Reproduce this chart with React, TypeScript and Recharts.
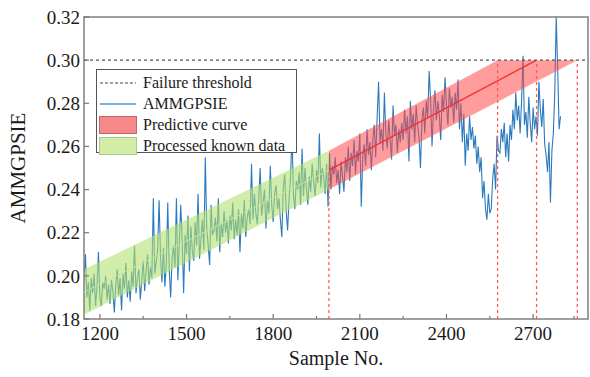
import React from 'react'
import {
  ComposedChart, Line, Area, XAxis, YAxis, ReferenceLine, ReferenceArea,
} from 'recharts'

const SERIF = '"Liberation Serif", "Times New Roman", serif'

// measured signal, one value every 5 samples starting at 1145
const SAMPLE_START = 1145
const SAMPLE_STEP = 5
const AMMGPSIE = [
  0.198, 0.210, 0.190, 0.197, 0.184, 0.199, 0.192, 0.201, 0.186, 0.195, 0.211, 0.190, 0.186, 0.197, 0.194, 0.200, 0.189, 0.196, 0.187, 0.198,
  0.193, 0.183, 0.196, 0.203, 0.191, 0.199, 0.184, 0.201, 0.194, 0.206, 0.190, 0.198, 0.188, 0.202, 0.195, 0.214, 0.192, 0.199, 0.203, 0.189,
  0.198, 0.207, 0.193, 0.202, 0.210, 0.196, 0.204, 0.199, 0.236, 0.201, 0.206, 0.212, 0.235, 0.209, 0.197, 0.213, 0.195, 0.206, 0.234, 0.203,
  0.190, 0.208, 0.214, 0.204, 0.236, 0.198, 0.215, 0.233, 0.216, 0.192, 0.219, 0.210, 0.228, 0.202, 0.223, 0.212, 0.207, 0.225, 0.214, 0.238,
  0.208, 0.217, 0.226, 0.212, 0.255, 0.222, 0.214, 0.205, 0.233, 0.219, 0.221, 0.227, 0.216, 0.236, 0.211, 0.224, 0.218, 0.230, 0.220, 0.226,
  0.215, 0.228, 0.221, 0.234, 0.217, 0.226, 0.219, 0.231, 0.211, 0.229, 0.222, 0.235, 0.218, 0.227, 0.231, 0.224, 0.252, 0.226, 0.238, 0.229,
  0.224, 0.236, 0.250, 0.228, 0.234, 0.240, 0.222, 0.235, 0.229, 0.251, 0.233, 0.225, 0.238, 0.242, 0.231, 0.236, 0.226, 0.218, 0.241, 0.247,
  0.230, 0.221, 0.236, 0.245, 0.266, 0.238, 0.231, 0.244, 0.240, 0.248, 0.233, 0.259, 0.237, 0.250, 0.241, 0.233, 0.246, 0.239, 0.252, 0.244,
  0.237, 0.249, 0.243, 0.266, 0.241, 0.250, 0.246, 0.238, 0.252, 0.232, 0.257, 0.240, 0.251, 0.247, 0.255, 0.243, 0.249, 0.238, 0.253, 0.246,
  0.239, 0.255, 0.248, 0.260, 0.244, 0.257, 0.251, 0.263, 0.247, 0.258, 0.253, 0.266, 0.232, 0.255, 0.261, 0.251, 0.268, 0.256, 0.262, 0.249,
  0.263, 0.270, 0.255, 0.274, 0.290, 0.262, 0.268, 0.258, 0.285, 0.266, 0.259, 0.272, 0.263, 0.254, 0.279, 0.265, 0.270, 0.257, 0.268, 0.262,
  0.271, 0.263, 0.277, 0.266, 0.274, 0.253, 0.281, 0.268, 0.275, 0.262, 0.279, 0.270, 0.264, 0.250, 0.272, 0.278, 0.266, 0.281, 0.273, 0.295,
  0.282, 0.260, 0.277, 0.286, 0.272, 0.281, 0.275, 0.263, 0.284, 0.276, 0.292, 0.279, 0.270, 0.287, 0.278, 0.283, 0.271, 0.285, 0.277, 0.291,
  0.268, 0.280, 0.262, 0.275, 0.251, 0.266, 0.258, 0.274, 0.263, 0.269, 0.259, 0.265, 0.252, 0.260, 0.248, 0.255, 0.236, 0.244, 0.231, 0.226,
  0.238, 0.229, 0.231, 0.245, 0.252, 0.240, 0.265, 0.258, 0.257, 0.268, 0.262, 0.271, 0.255, 0.266, 0.253, 0.270, 0.263, 0.277, 0.268, 0.285,
  0.272, 0.279, 0.266, 0.281, 0.302, 0.270, 0.276, 0.264, 0.283, 0.271, 0.262, 0.278, 0.268, 0.274, 0.265, 0.290, 0.277, 0.269, 0.282, 0.261,
  0.256, 0.248, 0.262, 0.234, 0.258, 0.266, 0.285, 0.320, 0.296, 0.268, 0.274,
]

// processed known data band (green)
const KNOWN_X = [1145, 1993]
const KNOWN_LOW = [0.182, 0.240]
const KNOWN_HIGH = [0.203, 0.258]
const KNOWN_MID = [0.1925, 0.249]

// predictive band (red), clipped at the threshold
const PRED_X = [1993, 2577, 2853]
const PRED_LOW = [0.240, 0.2807, 0.300]
const PRED_HIGH = [0.258, 0.300, 0.300]
const PRED_MID_X = [1993, 2712]
const PRED_MID = [0.249, 0.300]

const FAILURE_THRESHOLD = 0.30
const PRED_START = 1993
const FAILURE_HITS = [2577, 2712, 2853]

const X_TICKS = [1200, 1350, 1500, 1650, 1800, 1950, 2100, 2250, 2400, 2550, 2700, 2850]
const Y_TICKS = [0.18, 0.19, 0.20, 0.21, 0.22, 0.23, 0.24, 0.25, 0.26, 0.27, 0.28, 0.29, 0.30, 0.31, 0.32]

type Row = { x: number; [k: string]: number | number[] | undefined }

function buildRows(): Row[] {
  const rows = new Map<number, Row>()
  const put = (x: number, key: string, v: number | number[]) => {
    const r = rows.get(x) ?? { x }
    r[key] = v
    rows.set(x, r)
  }
  AMMGPSIE.forEach((v, i) => put(SAMPLE_START + i * SAMPLE_STEP, 'signal', v))
  KNOWN_X.forEach((x, i) => {
    put(x, 'known', [KNOWN_LOW[i], KNOWN_HIGH[i]])
    put(x, 'knownMid', KNOWN_MID[i])
  })
  PRED_X.forEach((x, i) => put(x, 'pred', [PRED_LOW[i], PRED_HIGH[i]]))
  PRED_MID_X.forEach((x, i) => put(x, 'predMid', PRED_MID[i]))
  return [...rows.values()].sort((a, b) => a.x - b.x)
}

const data = buildRows()

function XTick({ x, y, payload }: any) {
  const major = (payload.value - 1200) % 300 === 0
  return (
    <g>
      <line x1={x} x2={x} y1={y} y2={y - (major ? 5 : 3)} stroke="#777" strokeWidth={1.2} />
      {major && (
        <text x={x} y={y + 21} textAnchor="middle" fontFamily={SERIF} fontSize={19} fill="#1a1a1a">
          {payload.value}
        </text>
      )}
    </g>
  )
}

function YTick({ x, y, payload }: any) {
  const major = Math.round(payload.value * 100) % 2 === 0
  return (
    <g>
      <line x1={x} x2={x + (major ? 5 : 3)} y1={y} y2={y} stroke="#777" strokeWidth={1.2} />
      {major && (
        <text x={x - 4} y={y} dy="0.35em" textAnchor="end" fontFamily={SERIF} fontSize={19} fill="#1a1a1a">
          {payload.value.toFixed(2)}
        </text>
      )}
    </g>
  )
}

function LegendBox() {
  const row = { display: 'flex', alignItems: 'center', height: 21 } as const
  const txt = { fontFamily: SERIF, fontSize: 16, color: '#1a1a1a', marginLeft: 6, whiteSpace: 'nowrap' } as const
  return (
    <div style={{
      position: 'absolute', left: 96, top: 69, width: 201, height: 84, background: '#fff',
      border: '1px solid #555', padding: '2px 0 0 2px', boxSizing: 'border-box',
    }}>
      <div style={row}>
        <svg width={38} height={10}><line x1={1} x2={37} y1={5} y2={5} stroke="#444" strokeDasharray="3 2" strokeWidth={1.2} /></svg>
        <span style={txt}>Failure threshold</span>
      </div>
      <div style={row}>
        <svg width={38} height={10}><line x1={1} x2={37} y1={5} y2={5} stroke="#4d96d4" strokeWidth={1.4} /></svg>
        <span style={txt}>AMMGPSIE</span>
      </div>
      <div style={row}>
        <div style={{ width: 36, height: 16, background: '#f8898b', border: '1px solid #c0676a' }} />
        <span style={txt}>Predictive curve</span>
      </div>
      <div style={row}>
        <div style={{ width: 36, height: 16, background: '#d3eda6', border: '1px solid #a9c98a' }} />
        <span style={txt}>Processed known data</span>
      </div>
    </div>
  )
}

export default function App() {
  return (
    <div style={{ position: 'absolute', left: 0, top: 0, width: 590, height: 377, background: '#fff' }}>
      <ComposedChart width={590} height={377} data={data} margin={{ top: 17, right: 2, bottom: 0, left: 0 }}>
        <XAxis
          dataKey="x"
          type="number"
          domain={[1145, 2890]}
          ticks={X_TICKS}
          tick={<XTick />}
          tickLine={false}
          tickSize={0}
          tickMargin={0}
          axisLine={false}
          height={58}
          allowDataOverflow
          label={{ value: 'Sample No.', position: 'insideBottom', offset: 12, style: { fontFamily: SERIF, fontSize: 20, fill: '#1a1a1a' } }}
        />
        <YAxis
          type="number"
          domain={[0.18, 0.32]}
          ticks={Y_TICKS}
          tick={<YTick />}
          tickLine={false}
          tickSize={0}
          tickMargin={0}
          axisLine={false}
          width={84}
          allowDataOverflow
          label={{
            content: () => (
              <text x={25} y={168} transform="rotate(-90 25 168)" textAnchor="middle" fontFamily={SERIF} fontSize={21} fill="#1a1a1a">
                AMMGPSIE
              </text>
            ),
          }}
        />
        {/* signal drawn as an unfilled area so the translucent bands sit on top of it */}
        <Area dataKey="signal" type="linear" stroke="#2a7abf" strokeWidth={1.1} fill="none" dot={false} activeDot={false} connectNulls isAnimationActive={false} />
        <Area dataKey="known" type="linear" stroke="none" fill="#b4e070" fillOpacity={0.6} connectNulls isAnimationActive={false} />
        <Line dataKey="knownMid" type="linear" stroke="#c6e89a" strokeWidth={1} dot={false} activeDot={false} connectNulls isAnimationActive={false} />
        <Area dataKey="pred" type="linear" stroke="none" fill="#ff4a4a" fillOpacity={0.55} connectNulls isAnimationActive={false} />
        <Line dataKey="predMid" type="linear" stroke="#f23030" strokeWidth={1.3} dot={false} activeDot={false} connectNulls isAnimationActive={false} />
        <ReferenceLine y={FAILURE_THRESHOLD} stroke="#555" strokeDasharray="3 3" strokeWidth={1.2} />
        <ReferenceLine
          segment={[{ x: PRED_START, y: 0.18 }, { x: PRED_START, y: PRED_MID[0] }]}
          stroke="#ff5a5a" strokeDasharray="3 3" strokeWidth={1.3}
        />
        {FAILURE_HITS.map(x => (
          <ReferenceLine
            key={x}
            segment={[{ x, y: 0.18 }, { x, y: FAILURE_THRESHOLD }]}
            stroke="#ff5a5a" strokeDasharray="3 3" strokeWidth={1.3}
          />
        ))}
        <ReferenceArea x1={1145} x2={2890} y1={0.18} y2={0.32} fill="none" stroke="#808080" strokeWidth={1.5} />
      </ComposedChart>
      <LegendBox />
    </div>
  )
}
